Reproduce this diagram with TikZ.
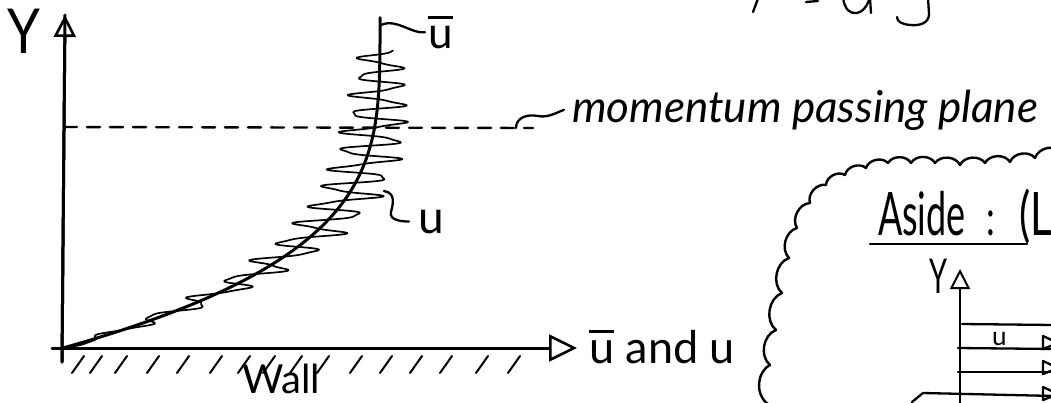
\documentclass[tikz,border=0pt]{standalone}
\usepackage{fontspec}
\setmainfont{Lato}
\usetikzlibrary{arrows.meta, positioning}
% bar over a letter, drawn as a rule
\newcommand\mbar[1]{{\setbox0\hbox{#1}\rlap{\raisebox{\dimexpr\ht0+0.15em\relax}{\rule{\wd0}{0.07em}}}\box0}}

\begin{document}
\begin{tikzpicture}[x=1pt, y=-1pt, line cap=round, line join=round]
	\tikzset{
		axis/.style={line width=3pt},
		hatch/.style={line width=2pt},
		meanline/.style={line width=3pt},
		fluct/.style={line width=1.7pt},
		leader/.style={line width=2.3pt},
		hand/.style={inner sep=0pt, outer sep=0pt, anchor=base west},
		cloudline/.style={line width=2.4pt}
	}
	\useasboundingbox (0,0) rectangle (1051,402);
	\clip (0,0) rectangle (1051,402);

	% axes
	\coordinate (ybot) at (62,362);
	\coordinate (ytip) at (65,15);
	\coordinate (xbeg) at (52,348);
	\coordinate (xtip) at (577,348);
	\draw[axis] (ybot) -- (ytip);
	\draw[axis, -{Triangle[open, length=22pt, width=22pt, line width=2.6pt]}] (ybot) -- (ytip);
	\draw[axis, -{Triangle[open, length=28pt, width=27pt, line width=2.6pt]}] (xbeg) -- (xtip);

	% wall
	\foreach \hx in {72,90,115,147,177,210,238,263,290,317,350,380,410,440,476,508}
		\draw[hatch] (\hx,373) -- ++(12,-17);

	% momentum passing plane
	\coordinate (planeL) at (64,127);
	\coordinate (planeR) at (533,128);
	\draw[line width=2.4pt, dash pattern=on 13pt off 10pt] (planeL) -- (planeR);

	% mean and fluctuating profiles
	\draw[meanline] plot[domain=0:0.999, samples=150, variable=\t]
		({63+317*(1-pow(1-\t,3.7))}, {348-331*\t});
	\draw[fluct] plot[domain=0:0.9, samples=800, variable=\t]
		({63+317*(1-pow(1-\t,3.7)) + (6+90*\t*(1.05-\t))*(sin(6480*\t)+0.2*sin(15900*\t))}, {348-331*\t});

	% labels
	\node[hand, font=\fontsize{62}{62}\selectfont] (ylab) at (8,53) {\scalebox{0.85}[1]{Y}};
	\node[hand, font=\fontsize{44}{44}\selectfont] (ubarlab) at (428,48) {\mbar{u}};
	\node[hand, font=\fontsize{46}{46}\selectfont] (ulab) at (418,233) {u};
	\node[hand, font=\itshape\fontsize{44}{44}\selectfont] (momlab) at (572,122) {momentum passing plane};
	\node[hand, font=\fontsize{45}{45}\selectfont] (xlab) at (589,363) {\mbar{u} and u};
	\node[hand, font=\fontsize{40}{40}\selectfont] (wall) at (242,393) {Wall};

	\coordinate (ubarfoot) at (381,25);
	\coordinate (ufoot) at (384,191);
	\coordinate (momfoot) at (516,128);
	\draw[leader] (ubarfoot) .. controls +(16,-7) and +(-14,2) .. ([xshift=-3pt]ubarlab.west);
	\draw[leader] (ufoot) .. controls +(12,2) and +(2,-8) .. (391,212) .. controls +(-2,8) and +(-8,0) .. ([xshift=-9pt]ulab.west);
	\draw[leader] (momfoot) .. controls +(0,-11) and +(-10,-2) .. (538,116) .. controls +(10,2) and +(-8,3) .. ([xshift=-8pt]momlab.west);

	% cut off text at the top
	\draw[leader] (759,-4) -- (753,12);
	\draw[leader] (806,2) -- (818,1);
	\draw[leader] (843,-2) .. controls (845,10) and (850,14) .. (857,13) .. controls (863,12) and (867,6) .. (869,0);
	\draw[leader] (870,-2) -- (871,13);
	\draw[leader] (928,-2) -- (929,14) .. controls (929,23) and (920,26) .. (910,25) .. controls (902,24) and (897,22) .. (897,17);

	% aside cloud
	\draw[cloudline] (768,404) \foreach \px/\py in {770/365,776/330,782/293,789/258,797/228,810/203,826/185,845/175,866/168,888/163,911/163,935/163,960/165,985/163,1010/162,1035/158,1062/152} { to[bend left=60] (\px,\py) };

	\node[hand, font=\fontsize{60}{60}\selectfont] (aside) at (878,235) {\scalebox{0.6}[1]{Aside}};
	\node[hand, font=\fontsize{50}{50}\selectfont] (colon) at (986,235) {\scalebox{0.7}[1]{:}};
	\node[hand, font=\fontsize{60}{60}\selectfont] (paren) at (1019,235) {\scalebox{0.7}[1]{(L}};
	\draw[leader] (870,244) -- (1027,244);

	% small sketch in the cloud
	\coordinate (sbot) at (960,404);
	\coordinate (stip) at (960,269);
	\draw[leader, -{Triangle[open, length=20pt, width=20pt, line width=2pt]}] (sbot) -- (stip);
	\node[hand, font=\fontsize{48}{48}\selectfont] (ysmall) at (929,293) {\scalebox{0.6}[1]{Y}};
	\node[hand, font=\fontsize{26}{26}\selectfont] (usmall) at (992,345) {u};
	\draw[leader] (962,324) -- (1055,325);
	\draw[leader] (958,348) -- (1055,349);
	\draw[leader] (958,372) -- (1055,372);
	\draw[leader] (912,402) -- (923,393) -- (1055,396);
	\foreach \ty in {343,368,394}
		\draw[leader] (1043,\ty-7) -- (1058,\ty) -- (1043,\ty+6) -- cycle;
\end{tikzpicture}
\end{document}
